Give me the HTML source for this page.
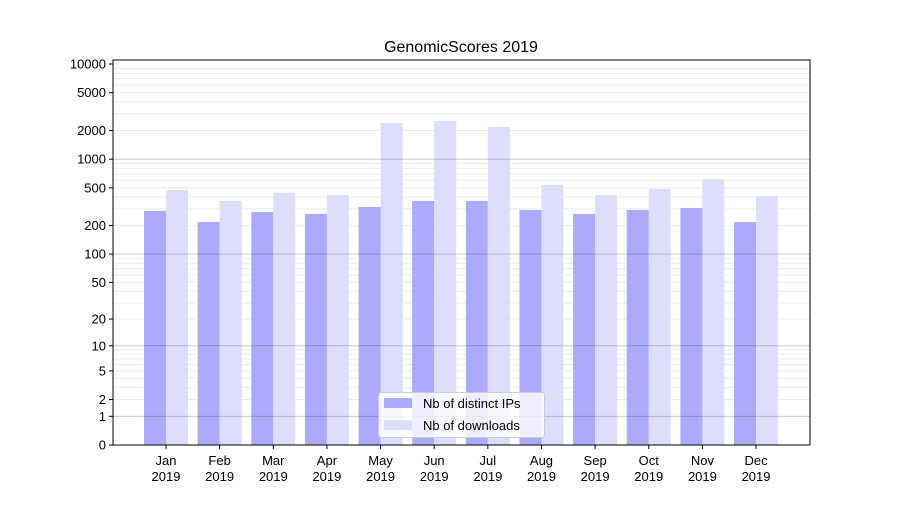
<!DOCTYPE html>
<html><head><meta charset="utf-8"><style>body{margin:0;background:#fff}svg{font-family:"Liberation Sans",sans-serif}</style></head>
<body>
<svg id="c" width="900" height="500"></svg>
<script>
const months=["Jan","Feb","Mar","Apr","May","Jun","Jul","Aug","Sep","Oct","Nov","Dec"];
const ips=[286,218,278,265,314,364,364,292,265,292,307,218];
const downloads=[475,364,442,421,2400,2520,2180,536,421,486,620,411];
const yTicks=[0,1,2,5,10,20,50,100,200,500,1000,2000,5000,10000];
const NS="http://www.w3.org/2000/svg";
const svg=document.getElementById('c');
const L=113,R=810,T=60,B=445;
function y(v){return B-95.25*Math.log10(v+1);}
function x(i){return 166+i*53.64;}
function mk(t,a,p){const e=document.createElementNS(NS,t);for(const k in a)e.setAttribute(k,a[k]);(p||svg).appendChild(e);return e;}
for(let d=1;d<=1000;d*=10){for(let m=2;m<=9;m++){const g=mk('line',{x1:L,x2:R,y1:y(d*m),y2:y(d*m),stroke:'#ebebeb','stroke-width':1});

}}
months.forEach((m,i)=>{
 const a=mk('rect',{x:x(i)-22,y:y(ips[i]),width:22,height:B-y(ips[i]),fill:'#aaaaff'});
 
 
 const b=mk('rect',{x:x(i),y:y(downloads[i]),width:22,height:B-y(downloads[i]),fill:'#ddddff'});
 
 
 mk('line',{x1:x(i),x2:x(i),y1:B,y2:B+4,stroke:'#000'});
 const t=mk('text',{x:x(i),y:B+20,'text-anchor':'middle','font-size':13});
 t.textContent=m;
 
 
 const t2=mk('text',{x:x(i),y:B+36,'text-anchor':'middle','font-size':13});
 t2.textContent='2019';
 
 
});
[1,10,100,1000].forEach(v=>{const g=mk('line',{x1:L,x2:R,y1:y(v),y2:y(v),stroke:'rgba(0,0,0,0.2)','stroke-width':1});

});
yTicks.forEach(v=>{
 mk('line',{x1:L-4,x2:L,y1:y(v),y2:y(v),stroke:'#000'});
 const t=mk('text',{x:L-7,y:y(v)+4.5,'text-anchor':'end','font-size':13});
 t.textContent=v;
 
 
});
const f=mk('rect',{x:L,y:T,width:R-L,height:B-T,fill:'none',stroke:'#000','stroke-width':1});


const ti=mk('text',{x:461,y:52,'text-anchor':'middle','font-size':16});
ti.textContent='GenomicScores 2019';


const lg=mk('g',{});


mk('rect',{x:378.5,y:392.5,width:166,height:45,rx:3,fill:'rgba(255,255,255,0.8)',stroke:'#ccc'},lg);
mk('rect',{x:384,y:398,width:28,height:10,fill:'#aaaaff'},lg);
mk('rect',{x:384,y:420,width:28,height:10,fill:'#ddddff'},lg);
const l1=mk('text',{x:423,y:408,'font-size':13},lg);l1.textContent='Nb of distinct IPs';


const l2=mk('text',{x:423,y:430,'font-size':13},lg);l2.textContent='Nb of downloads';


</script>
</body></html>
